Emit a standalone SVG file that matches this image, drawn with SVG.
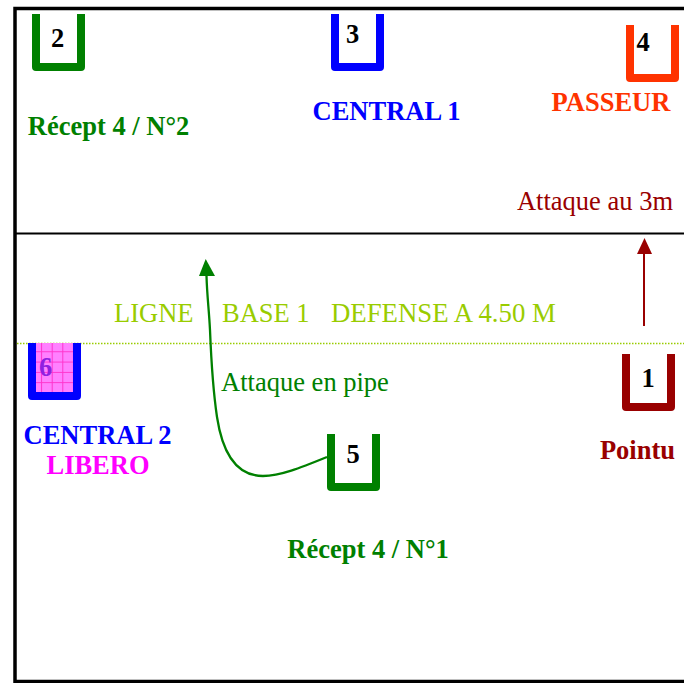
<svg xmlns="http://www.w3.org/2000/svg" width="684" height="683" viewBox="0 0 684 683">
<style>
text{font-family:"Liberation Serif","Times New Roman",serif}
.n{font-weight:bold;font-size:26.500px;fill:#000;text-anchor:middle}
.u{fill:none;stroke-width:8;stroke-linejoin:round}
.l{font-size:26.500px;font-weight:bold;text-anchor:middle}
.r{font-size:26.500px}
.g{fill:#99cc00}
</style>
<defs>
<pattern id="grid" width="10.600" height="10.300" patternUnits="userSpaceOnUse" x="30.500" y="341">
<rect width="10.600" height="10.300" fill="#ff80ff"/>
<path d="M0 .5H10.600M.5 0V10.300" stroke="#ff33cc" stroke-width="1" fill="none"/>
</pattern>
</defs>
<g id="court" fill="none" stroke="#000">
<path d="M684 8.500H15V681.500H684" stroke-width="3.500"/>
<path d="M15 233.500H684" stroke-width="2"/>
<path d="M17 343.500H684" stroke="#99cc00" stroke-width="1.600" stroke-dasharray="1.500 1.500"/>
</g>
<g id="connectors" fill="none">
<path id="pipe" d="M327 457C300 468 280 476 263 476C235 476 222 450 217 417C213 390 211 355 210 330C209 310 207 295 206.500 276" stroke="#008000" stroke-width="2.300"/>
<path d="M205.700 259L215 276H199Z" fill="#008000"/>
<path d="M644 326V254" stroke="#990000" stroke-width="2"/>
<path d="M644.500 238L652 254H637Z" fill="#990000"/>
</g>
<g id="node2"><path class="u" stroke="#008000" d="M36 14V67H81V14"/><text class="n" x="57.500" y="47">2</text></g>
<g id="node3"><path class="u" stroke="#0000ff" d="M335 14V67H380V14"/><text class="n" x="352.500" y="43">3</text></g>
<g id="node4"><path class="u" stroke="#ff3300" d="M630 25V78H675V25"/><text class="n" x="643" y="51">4</text></g>
<g id="node1"><path class="u" stroke="#990000" d="M626 354V407H671V354"/><text class="n" x="648" y="387">1</text></g>
<g id="node5"><path class="u" stroke="#008000" d="M331 434V487H376V434"/><text class="n" x="353" y="463">5</text></g>
<g id="node6"><rect x="32" y="343" width="45" height="53" fill="url(#grid)"/><path class="u" stroke="#0000ff" d="M32 343V396H77V343"/><text class="n" x="45.500" y="376" style="fill:#9020e0">6</text></g>
<g id="labels">
<text class="l" x="108.500" y="135" fill="#008000">Récept 4 / N°2</text>
<text class="l" x="386.500" y="120" fill="#0000ff">CENTRAL 1</text>
<text class="l" x="611" y="111" fill="#ff3300">PASSEUR</text>
<text class="r" x="595" y="210" text-anchor="middle" fill="#990000">Attaque au 3m</text>
<text class="r g" x="114" y="322">LIGNE</text>
<text class="r g" x="222" y="322">BASE 1</text>
<text class="r g" x="331" y="322" style="font-size:26.800px">DEFENSE A 4.50 M</text>
<text class="r" x="305" y="391" text-anchor="middle" fill="#008000">Attaque en pipe</text>
<text class="l" x="97.500" y="444" fill="#0000ff">CENTRAL 2</text>
<text class="l" x="98" y="474" fill="#ff00ff">LIBERO</text>
<text class="l" x="637.500" y="459" fill="#990000">Pointu</text>
<text class="l" x="368" y="558" fill="#008000">Récept 4 / N°1</text>
</g>
</svg>
